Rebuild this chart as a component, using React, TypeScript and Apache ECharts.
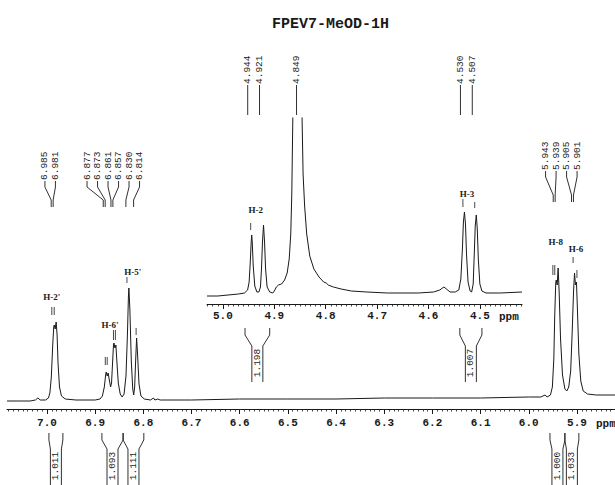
import React, { useEffect, useRef } from 'react';
import * as echarts from 'echarts';

const MONO = '"Liberation Mono", "DejaVu Sans Mono", monospace';
const SERIF = '"Liberation Serif", "DejaVu Serif", serif';
const INK = '#1a1a1a';

const title = 'FPEV7-MeOD-1H';

// Main spectrum (ppm, intensity)
const mainSpectrum: number[][] = [
  [7.083, 8], [7.06, 8], [7.035, 8], [7.024, 9], [7.019, 11], [7.014, 9], [7.003, 9],
  [6.997, 11], [6.994, 16], [6.991, 32], [6.988, 65], [6.986, 82], [6.985, 84], [6.983, 80],
  [6.981, 87], [6.979, 74], [6.977, 45], [6.974, 22], [6.970, 13], [6.962, 10], [6.940, 9],
  [6.900, 9], [6.890, 10], [6.885, 13], [6.881, 22], [6.878, 35], [6.877, 37], [6.875, 33],
  [6.873, 36], [6.871, 30], [6.868, 22], [6.866, 26], [6.864, 45], [6.862, 64], [6.861, 66],
  [6.859, 61], [6.857, 64], [6.855, 48], [6.852, 26], [6.848, 15], [6.844, 12], [6.840, 15],
  [6.836, 33], [6.833, 75], [6.831, 112], [6.830, 121], [6.828, 100], [6.825, 48], [6.822, 20],
  [6.820, 14], [6.818, 22], [6.816, 48], [6.814, 71], [6.812, 55], [6.809, 25], [6.805, 13],
  [6.798, 10], [6.785, 9], [6.779, 11], [6.776, 9], [6.770, 10], [6.765, 9], [6.700, 9],
  [6.600, 10], [6.500, 10], [6.400, 10], [6.300, 11], [6.200, 11], [6.100, 11], [6.000, 12],
  [5.975, 12], [5.966, 14], [5.962, 12], [5.955, 14], [5.951, 22], [5.948, 50], [5.946, 95],
  [5.944, 126], [5.943, 129], [5.941, 124], [5.939, 141], [5.937, 118], [5.934, 70], [5.930, 34],
  [5.925, 20], [5.921, 18], [5.917, 22], [5.913, 38], [5.910, 75], [5.907, 118], [5.905, 136],
  [5.903, 124], [5.901, 127], [5.899, 100], [5.896, 55], [5.892, 28], [5.887, 18], [5.878, 15],
  [5.860, 14], [5.821, 14],
];

// Inset spectrum (4.4 - 5.0 ppm)
const insetSpectrum: number[][] = [
  [5.031, 8], [5.010, 8], [4.990, 9], [4.970, 10], [4.958, 11], [4.952, 14], [4.949, 22],
  [4.947, 40], [4.945, 62], [4.944, 69], [4.943, 62], [4.941, 38], [4.938, 18], [4.934, 12],
  [4.930, 12], [4.927, 17], [4.925, 35], [4.923, 62], [4.921, 79], [4.919, 62], [4.917, 35],
  [4.914, 17], [4.909, 12], [4.903, 11], [4.900, 13], [4.896, 17], [4.892, 19], [4.886, 20],
  [4.880, 24], [4.875, 31], [4.871, 45], [4.868, 70], [4.866, 110], [4.864, 186], [4.861, 330],
  [4.857, 420], [4.852, 400], [4.848, 260], [4.846, 186], [4.844, 130], [4.841, 98], [4.837, 70],
  [4.831, 48], [4.823, 35], [4.813, 27], [4.804, 22], [4.799, 21], [4.795, 19], [4.785, 17],
  [4.770, 15], [4.750, 13], [4.720, 12], [4.680, 11], [4.620, 11], [4.590, 12], [4.578, 14],
  [4.570, 17], [4.565, 15], [4.558, 12], [4.548, 12], [4.541, 14], [4.537, 25], [4.534, 55],
  [4.532, 82], [4.530, 92], [4.528, 80], [4.526, 50], [4.523, 22], [4.519, 13], [4.516, 12],
  [4.513, 20], [4.511, 48], [4.509, 78], [4.507, 89], [4.505, 75], [4.503, 45], [4.500, 20],
  [4.496, 13], [4.488, 11], [4.460, 11], [4.418, 12],
];

// Peak-picking labels (chemical shifts)
const mainShiftGroups: number[][] = [
  [6.985, 6.981],
  [6.877, 6.873, 6.861, 6.857, 6.830, 6.814],
  [5.943, 5.939, 5.905, 5.901],
];
const insetShifts: number[] = [4.944, 4.921, 4.849, 4.530, 4.507];

// Integrals: [from ppm, to ppm, value]
const mainIntegrals: number[][] = [
  [6.996, 6.967, 1.011],
  [6.886, 6.842, 1.093],
  [6.842, 6.799, 1.111],
  [5.956, 5.925, 1.000],
  [5.925, 5.896, 1.033],
];
const insetIntegrals: number[][] = [
  [4.957, 4.909, 1.198],
  [4.539, 4.496, 1.007],
];

// Assignments
const mainAssignNames = ["H-2'", "H-6'", "H-5'", 'H-8', 'H-6'];
const mainAssignPpm = [6.990, 6.869, 6.822, 5.944, 5.902];
const mainAssignHeight = [112, 84, 137, 167, 160];
const insetAssignNames = ['H-2', 'H-3'];
const insetAssignPpm = [4.936, 4.525];
const insetAssignHeight = [94, 110];

// Peak marker ticks: [ppm, from, to]
const mainMarks: number[][] = [
  [6.990, 102, 94], [6.985, 102, 94], [6.879, 52, 44], [6.875, 52, 44],
  [6.862, 79, 69], [6.858, 79, 69], [6.834, 132, 126], [6.815, 81, 74],
  [5.950, 144, 134], [5.946, 144, 134], [5.908, 152, 146], [5.900, 139, 131],
];
const insetMarks: number[][] = [
  [4.946, 81, 74], [4.533, 105, 97], [4.510, 102, 96],
];

const mainTickValues = [5.9, 6.0, 6.1, 6.2, 6.3, 6.4, 6.5, 6.6, 6.7, 6.8, 6.9, 7.0];
const insetTickValues = [4.5, 4.6, 4.7, 4.8, 4.9, 5.0];

const mainFlat = mainShiftGroups.flatMap((g, gi) => g.map((p, i) => ({ p, gi, i, n: g.length })));
const connectorLayout = [
  { textBottom: 181, bendTop: 187, bendBottom: 200, end: 207 },
  { textBottom: 181, bendTop: 187, bendBottom: 200, end: 207 },
  { textBottom: 171, bendTop: 177, bendBottom: 195, end: 202 },
];

const plainText = { stroke: 'none', lineWidth: 0, textBorderWidth: 0, textShadowBlur: 0 };

function vText(text: string, x: number, y: number, size: number, align: string) {
  return {
    type: 'text', x, y, rotation: Math.PI / 2,
    style: { text, fontSize: size, fontFamily: MONO, fill: INK, align, verticalAlign: 'middle', ...plainText },
  };
}

function integralRender(list: number[][], g: any) {
  return (params: any, api: any) => {
    const [a, b, v] = list[params.dataIndex];
    const xl = api.coord([a, 0])[0];
    const xr = api.coord([b, 0])[0];
    const c = (xl + xr) / 2;
    const ls = { stroke: INK, fill: 'none', lineWidth: 0.9 };
    return {
      type: 'group',
      children: [
        { type: 'polyline', shape: { points: [[xl, g.top], [xl, g.b1], [c - 5.5, g.b2], [c - 5.5, g.bottom]] }, style: ls },
        { type: 'polyline', shape: { points: [[xr, g.top], [xr, g.b1], [c + 5.5, g.b2], [c + 5.5, g.bottom]] }, style: ls },
        vText(v.toFixed(3), c, g.textY, 9.5, 'center'),
      ],
    };
  };
}

function assignRender(names: string[], ppm: number[], h: number[]) {
  return (params: any, api: any) => {
    const i = params.dataIndex;
    const p = api.coord([ppm[i], h[i]]);
    return {
      type: 'text', x: p[0], y: p[1],
      style: {
        text: names[i], fontSize: 9, fontWeight: 'bold', fontFamily: SERIF, fill: INK,
        align: 'center', verticalAlign: 'middle', ...plainText,
      },
    };
  };
}

function markRender(list: number[][]) {
  return (params: any, api: any) => {
    const [p, y1, y2] = list[params.dataIndex];
    const a = api.coord([p, y1]);
    const b = api.coord([p, y2]);
    return { type: 'line', shape: { x1: a[0], y1: a[1], x2: b[0], y2: b[1] }, style: { stroke: '#333', lineWidth: 0.9 } };
  };
}

function axisCommon(min: number, max: number, split: number, margin: number, ticks: number[], gridIndex: number) {
  return {
    type: 'value', gridIndex, inverse: true, min, max, splitNumber: split,
    axisLine: { show: true, onZero: false, lineStyle: { color: INK, width: 1 } },
    axisTick: { show: true, length: 5, lineStyle: { color: INK, width: 1 }, customValues: ticks },
    minorTick: { show: true, splitNumber: 10, length: 2.5, lineStyle: { color: INK, width: 0.8 } },
    splitLine: { show: false },
    minorSplitLine: { show: false },
    axisLabel: {
      show: true, margin, customValues: ticks,
      formatter: (v: number) => v.toFixed(1),
      fontFamily: MONO, fontWeight: 'bold', fontSize: 11, color: INK,
    },
  };
}

export default function App() {
  const ref = useRef<HTMLDivElement>(null);
  useEffect(() => {
    const chart = echarts.init(ref.current!, null, { renderer: 'svg' });
    const option: any = {
      animation: false,
      backgroundColor: '#fff',
      color: [INK],
      title: {
        text: title, left: 272, top: 17, padding: 0,
        textStyle: { fontFamily: MONO, fontWeight: 'bold', fontSize: 15, color: INK },
      },
      grid: [
        { left: 7, right: 0, top: 0, bottom: 76 },
        { left: 207, right: 93, top: 118, bottom: 181 },
      ],
      xAxis: [
        axisCommon(5.821, 7.083, 12, 8, mainTickValues, 0),
        axisCommon(4.418, 5.031, 6, 6, insetTickValues, 1),
      ],
      yAxis: [
        { type: 'value', gridIndex: 0, min: 0, max: 409, show: false },
        { type: 'value', gridIndex: 1, min: 0, max: 186, show: false },
      ],
      graphic: [
        { type: 'text', x: 596, y: 424, style: { text: 'ppm', fontSize: 11, fontWeight: 'bold', fontFamily: MONO, fill: INK, align: 'left', verticalAlign: 'middle' } },
        { type: 'text', x: 499, y: 317, style: { text: 'ppm', fontSize: 11, fontWeight: 'bold', fontFamily: MONO, fill: INK, align: 'left', verticalAlign: 'middle' } },
      ],
      series: [
        {
          type: 'line', xAxisIndex: 0, yAxisIndex: 0, data: mainSpectrum, showSymbol: false, silent: true,
          lineStyle: { color: INK, width: 1 }, clip: true,
        },
        {
          type: 'line', xAxisIndex: 1, yAxisIndex: 1, data: insetSpectrum, showSymbol: false, silent: true,
          lineStyle: { color: INK, width: 1 }, clip: true,
        },
        {
          type: 'custom', xAxisIndex: 0, yAxisIndex: 0, silent: true,
          data: mainFlat.map((m) => [m.p, 0]),
          renderItem: (params: any, api: any) => {
            const m = mainFlat[params.dataIndex];
            const group = mainShiftGroups[m.gi];
            const xs = group.map((v) => api.coord([v, 0])[0]);
            const center = xs.reduce((a, b) => a + b, 0) / xs.length - 5;
            const lx = center + (m.i - (m.n - 1) / 2) * 10.5;
            const px = api.coord([m.p, 0])[0] - 3;
            const L = connectorLayout[m.gi];
            return {
              type: 'group',
              children: [
                { type: 'polyline', shape: { points: [[lx, L.textBottom], [lx, L.bendTop], [px, L.bendBottom], [px, L.end]] },
                  style: { stroke: INK, fill: 'none', lineWidth: 0.9 } },
                vText(m.p.toFixed(3), lx, L.textBottom - 1, 9.5, 'left'),
              ],
            };
          },
        },
        {
          type: 'custom', xAxisIndex: 1, yAxisIndex: 1, silent: true,
          data: insetShifts.map((p) => [p, 0]),
          renderItem: (params: any, api: any) => {
            const p = insetShifts[params.dataIndex];
            const lx = api.coord([p, 0])[0] - 4;
            return {
              type: 'group',
              children: [
                { type: 'line', shape: { x1: lx, y1: 85, x2: lx, y2: 115 }, style: { stroke: INK, lineWidth: 0.9 } },
                vText(p.toFixed(3), lx, 84, 9.5, 'left'),
              ],
            };
          },
        },
        {
          type: 'custom', xAxisIndex: 0, yAxisIndex: 0, silent: true,
          data: mainIntegrals.map((d) => [d[0], 0]),
          renderItem: integralRender(mainIntegrals, { top: 433, b1: 440, b2: 449, bottom: 485, textY: 466 }),
        },
        {
          type: 'custom', xAxisIndex: 1, yAxisIndex: 1, silent: true,
          data: insetIntegrals.map((d) => [d[0], 0]),
          renderItem: integralRender(insetIntegrals, { top: 328, b1: 335, b2: 346, bottom: 382, textY: 363 }),
        },
        {
          type: 'custom', xAxisIndex: 0, yAxisIndex: 0, silent: true,
          data: mainAssignPpm.map((p, i) => [p, mainAssignHeight[i]]),
          renderItem: assignRender(mainAssignNames, mainAssignPpm, mainAssignHeight),
        },
        {
          type: 'custom', xAxisIndex: 1, yAxisIndex: 1, silent: true,
          data: insetAssignPpm.map((p, i) => [p, insetAssignHeight[i]]),
          renderItem: assignRender(insetAssignNames, insetAssignPpm, insetAssignHeight),
        },
        {
          type: 'custom', xAxisIndex: 0, yAxisIndex: 0, silent: true,
          data: mainMarks.map((d) => [d[0], d[1]]),
          renderItem: markRender(mainMarks),
        },
        {
          type: 'custom', xAxisIndex: 1, yAxisIndex: 1, silent: true,
          data: insetMarks.map((d) => [d[0], d[1]]),
          renderItem: markRender(insetMarks),
        },
      ],
    };
    chart.setOption(option);
    return () => chart.dispose();
  }, []);
  return (
    <div
      ref={ref}
      style={{ position: 'fixed', left: 0, top: 0, width: 615, height: 485, background: '#fff' }}
    />
  );
}
